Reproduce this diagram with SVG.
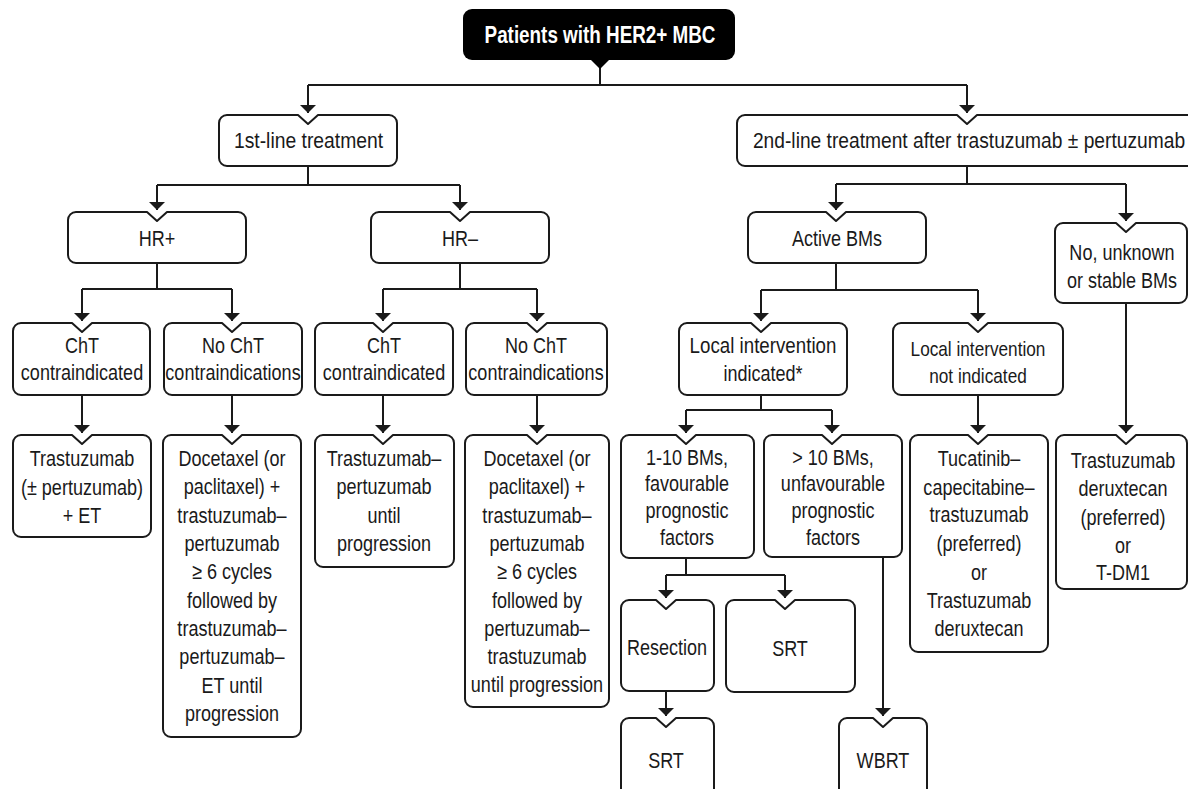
<svg xmlns="http://www.w3.org/2000/svg" width="1188" height="789" viewBox="0 0 1188 789">
<defs>
<marker id="ah" markerUnits="userSpaceOnUse" markerWidth="8" markerHeight="16" viewBox="0 0 8 16" refX="8" refY="8" orient="auto"><path d="M0,0 L8,8 L0,16 Z" fill="#1a1a1a"/></marker>
<style>
.box{fill:#fff;stroke:#1a1a1a;stroke-width:2;stroke-linejoin:round}
.c{fill:none;stroke:#1a1a1a;stroke-width:2}
.a{fill:none;stroke:#1a1a1a;stroke-width:2;marker-end:url(#ah)}
text{font-family:"Liberation Sans",Arial,sans-serif;font-size:22px;fill:#1a1a1a;text-anchor:middle}
.w{fill:#fff;font-weight:bold;font-size:23px}
.s{font-size:21px}
</style>
</defs>
<rect width="1188" height="789" fill="#fff"/>
<g id="connectors">
<path class="c" d="M600,66 V85 M308,85 H967"/>
<path class="a" d="M308,85 V113"/>
<path class="a" d="M967,85 V113"/>
<path class="c" d="M308,166 V185 M157,185 H460"/>
<path class="a" d="M157,185 V210"/>
<path class="a" d="M460,185 V210"/>
<path class="c" d="M967,166 V184 M836,184 H1126"/>
<path class="a" d="M836,184 V210"/>
<path class="a" d="M1126,184 V221"/>
<path class="c" d="M157,263 V289 M82,289 H232"/>
<path class="a" d="M82,289 V321"/>
<path class="a" d="M232,289 V321"/>
<path class="c" d="M460,263 V289 M383,289 H537"/>
<path class="a" d="M383,289 V321"/>
<path class="a" d="M537,289 V321"/>
<path class="c" d="M836,263 V290 M761,290 H978"/>
<path class="a" d="M761,290 V321"/>
<path class="a" d="M978,290 V321"/>
<path class="a" d="M1126,303 V433"/>
<path class="a" d="M82,395 V433"/>
<path class="a" d="M232,395 V433"/>
<path class="a" d="M383,395 V433"/>
<path class="a" d="M537,395 V433"/>
<path class="c" d="M761,395 V410 M686,410 H832"/>
<path class="a" d="M686,410 V433"/>
<path class="a" d="M832,410 V433"/>
<path class="a" d="M978,395 V433"/>
<path class="c" d="M686,558 V575 M666,575 H785"/>
<path class="a" d="M666,575 V598"/>
<path class="a" d="M785,575 V598"/>
<path class="a" d="M666,691 V716"/>
<path class="a" d="M883,557 V716"/>
</g>
<g id="n0">
<rect x="463" y="9" width="272" height="51" rx="9" fill="#000"/>
<path d="M590,59 L610,59 L600,69 Z" fill="#000"/>
<text class="w" transform="translate(600 43) scale(.82 1)">Patients with HER2+ MBC</text>
</g>
<g id="n1"><path class="box" d="M227,115 H298 L308,124 L318,115 H389 A8,8 0 0 1 397,123 V158 A8,8 0 0 1 389,166 H227 A8,8 0 0 1 219,158 V123 A8,8 0 0 1 227,115 Z"/><text transform="translate(308.5 148) scale(.82 1)" textLength="182" lengthAdjust="spacingAndGlyphs">1st-line treatment</text></g>
<g id="n2"><path class="box" d="M745,115 H957 L967,124 L977,115 H1189 A8,8 0 0 1 1197,123 V158 A8,8 0 0 1 1189,166 H745 A8,8 0 0 1 737,158 V123 A8,8 0 0 1 745,115 Z"/><text transform="translate(969 148) scale(.82 1)" textLength="527" lengthAdjust="spacingAndGlyphs">2nd-line treatment after trastuzumab ± pertuzumab</text></g>
<g id="n3"><path class="box" d="M76,212 H147 L157,221 L167,212 H238 A8,8 0 0 1 246,220 V255 A8,8 0 0 1 238,263 H76 A8,8 0 0 1 68,255 V220 A8,8 0 0 1 76,212 Z"/><text transform="translate(157 246) scale(.82 1)">HR+</text></g>
<g id="n4"><path class="box" d="M379,212 H450 L460,221 L470,212 H541 A8,8 0 0 1 549,220 V255 A8,8 0 0 1 541,263 H379 A8,8 0 0 1 371,255 V220 A8,8 0 0 1 379,212 Z"/><text transform="translate(460 246) scale(.82 1)">HR–</text></g>
<g id="n5"><path class="box" d="M756,212 H826 L836,221 L846,212 H918 A8,8 0 0 1 926,220 V255 A8,8 0 0 1 918,263 H756 A8,8 0 0 1 748,255 V220 A8,8 0 0 1 756,212 Z"/><text transform="translate(837 246) scale(.82 1)">Active BMs</text></g>
<g id="n6"><path class="box" d="M1063,223 H1116 L1126,232 L1136,223 H1179 A8,8 0 0 1 1187,231 V295 A8,8 0 0 1 1179,303 H1063 A8,8 0 0 1 1055,295 V231 A8,8 0 0 1 1063,223 Z"/><text transform="translate(1122 260) scale(.82 1)">No, unknown</text><text transform="translate(1122 288) scale(.82 1)">or stable BMs</text></g>
<g id="n7"><path class="box" d="M21,323 H72 L82,332 L92,323 H142 A8,8 0 0 1 150,331 V387 A8,8 0 0 1 142,395 H21 A8,8 0 0 1 13,387 V331 A8,8 0 0 1 21,323 Z"/><text transform="translate(82 353) scale(.82 1)">ChT</text><text transform="translate(82 380) scale(.82 1)">contraindicated</text></g>
<g id="n8"><path class="box" d="M172,323 H222 L232,332 L242,323 H294 A8,8 0 0 1 302,331 V387 A8,8 0 0 1 294,395 H172 A8,8 0 0 1 164,387 V331 A8,8 0 0 1 172,323 Z"/><text transform="translate(233 353) scale(.82 1)">No ChT</text><text transform="translate(233 380) scale(.82 1)">contraindications</text></g>
<g id="n9"><path class="box" d="M323,323 H373 L383,332 L393,323 H445 A8,8 0 0 1 453,331 V387 A8,8 0 0 1 445,395 H323 A8,8 0 0 1 315,387 V331 A8,8 0 0 1 323,323 Z"/><text transform="translate(384 353) scale(.82 1)">ChT</text><text transform="translate(384 380) scale(.82 1)">contraindicated</text></g>
<g id="n10"><path class="box" d="M474,323 H527 L537,332 L547,323 H599 A8,8 0 0 1 607,331 V387 A8,8 0 0 1 599,395 H474 A8,8 0 0 1 466,387 V331 A8,8 0 0 1 474,323 Z"/><text transform="translate(536 353) scale(.82 1)">No ChT</text><text transform="translate(536 380) scale(.82 1)">contraindications</text></g>
<g id="n11"><path class="box" d="M687,323 H751 L761,332 L771,323 H839 A8,8 0 0 1 847,331 V387 A8,8 0 0 1 839,395 H687 A8,8 0 0 1 679,387 V331 A8,8 0 0 1 687,323 Z"/><text transform="translate(763 353) scale(.82 1)" textLength="179" lengthAdjust="spacingAndGlyphs">Local intervention</text><text transform="translate(763 381) scale(.82 1)">indicated*</text></g>
<g id="n12"><path class="box" d="M901,323 H968 L978,332 L988,323 H1055 A8,8 0 0 1 1063,331 V387 A8,8 0 0 1 1055,395 H901 A8,8 0 0 1 893,387 V331 A8,8 0 0 1 901,323 Z"/><text class="s" transform="translate(978 356) scale(.82 1)">Local intervention</text><text class="s" transform="translate(978 383) scale(.82 1)">not indicated</text></g>
<g id="n13"><path class="box" d="M21,435 H72 L82,444 L92,435 H143 A8,8 0 0 1 151,443 V529 A8,8 0 0 1 143,537 H21 A8,8 0 0 1 13,529 V443 A8,8 0 0 1 21,435 Z"/><text transform="translate(82 466) scale(.82 1)">Trastuzumab</text><text transform="translate(82 495) scale(.82 1)">(± pertuzumab)</text><text transform="translate(82 523) scale(.82 1)">+ ET</text></g>
<g id="n14"><path class="box" d="M171,435 H222 L232,444 L242,435 H293 A8,8 0 0 1 301,443 V729 A8,8 0 0 1 293,737 H171 A8,8 0 0 1 163,729 V443 A8,8 0 0 1 171,435 Z"/><text transform="translate(232 466) scale(.82 1)">Docetaxel (or</text><text transform="translate(232 494) scale(.82 1)">paclitaxel) +</text><text transform="translate(232 523) scale(.82 1)">trastuzumab–</text><text transform="translate(232 551) scale(.82 1)">pertuzumab</text><text transform="translate(232 579) scale(.82 1)">≥ 6 cycles</text><text transform="translate(232 608) scale(.82 1)">followed by</text><text transform="translate(232 636) scale(.82 1)">trastuzumab–</text><text transform="translate(232 664) scale(.82 1)">pertuzumab–</text><text transform="translate(232 693) scale(.82 1)">ET until</text><text transform="translate(232 721) scale(.82 1)">progression</text></g>
<g id="n15"><path class="box" d="M323,435 H373 L383,444 L393,435 H446 A8,8 0 0 1 454,443 V559 A8,8 0 0 1 446,567 H323 A8,8 0 0 1 315,559 V443 A8,8 0 0 1 323,435 Z"/><text transform="translate(384 466) scale(.82 1)">Trastuzumab–</text><text transform="translate(384 494) scale(.82 1)">pertuzumab</text><text transform="translate(384 523) scale(.82 1)">until</text><text transform="translate(384 551) scale(.82 1)">progression</text></g>
<g id="n16"><path class="box" d="M473,435 H527 L537,444 L547,435 H601 A8,8 0 0 1 609,443 V699 A8,8 0 0 1 601,707 H473 A8,8 0 0 1 465,699 V443 A8,8 0 0 1 473,435 Z"/><text transform="translate(537 466) scale(.82 1)">Docetaxel (or</text><text transform="translate(537 494) scale(.82 1)">paclitaxel) +</text><text transform="translate(537 523) scale(.82 1)">trastuzumab–</text><text transform="translate(537 551) scale(.82 1)">pertuzumab</text><text transform="translate(537 579) scale(.82 1)">≥ 6 cycles</text><text transform="translate(537 608) scale(.82 1)">followed by</text><text transform="translate(537 636) scale(.82 1)">pertuzumab–</text><text transform="translate(537 664) scale(.82 1)">trastuzumab</text><text transform="translate(537 692) scale(.82 1)">until progression</text></g>
<g id="n17"><path class="box" d="M629,435 H676 L686,444 L696,435 H746 A8,8 0 0 1 754,443 V550 A8,8 0 0 1 746,558 H629 A8,8 0 0 1 621,550 V443 A8,8 0 0 1 629,435 Z"/><text transform="translate(687 465) scale(.82 1)">1-10 BMs,</text><text transform="translate(687 491) scale(.82 1)">favourable</text><text transform="translate(687 518) scale(.82 1)">prognostic</text><text transform="translate(687 545) scale(.82 1)">factors</text></g>
<g id="n18"><path class="box" d="M772,435 H822 L832,444 L842,435 H894 A8,8 0 0 1 902,443 V549 A8,8 0 0 1 894,557 H772 A8,8 0 0 1 764,549 V443 A8,8 0 0 1 772,435 Z"/><text transform="translate(833 465) scale(.82 1)">&gt; 10 BMs,</text><text transform="translate(833 491) scale(.82 1)">unfavourable</text><text transform="translate(833 518) scale(.82 1)">prognostic</text><text transform="translate(833 545) scale(.82 1)">factors</text></g>
<g id="n19"><path class="box" d="M918,435 H968 L978,444 L988,435 H1040 A8,8 0 0 1 1048,443 V644 A8,8 0 0 1 1040,652 H918 A8,8 0 0 1 910,644 V443 A8,8 0 0 1 918,435 Z"/><text transform="translate(979 466) scale(.82 1)">Tucatinib–</text><text transform="translate(979 495) scale(.82 1)">capecitabine–</text><text transform="translate(979 522) scale(.82 1)">trastuzumab</text><text transform="translate(979 551) scale(.82 1)">(preferred)</text><text transform="translate(979 580) scale(.82 1)">or</text><text transform="translate(979 608) scale(.82 1)">Trastuzumab</text><text transform="translate(979 636) scale(.82 1)">deruxtecan</text></g>
<g id="n20"><path class="box" d="M1064,435 H1116 L1126,444 L1136,435 H1179 A8,8 0 0 1 1187,443 V581 A8,8 0 0 1 1179,589 H1064 A8,8 0 0 1 1056,581 V443 A8,8 0 0 1 1064,435 Z"/><text transform="translate(1123 468) scale(.82 1)">Trastuzumab</text><text transform="translate(1123 496) scale(.82 1)">deruxtecan</text><text transform="translate(1123 525) scale(.82 1)">(preferred)</text><text transform="translate(1123 553) scale(.82 1)">or</text><text transform="translate(1123 580) scale(.82 1)">T-DM1</text></g>
<g id="n21"><path class="box" d="M629,600 H656 L666,609 L676,600 H706 A8,8 0 0 1 714,608 V683 A8,8 0 0 1 706,691 H629 A8,8 0 0 1 621,683 V608 A8,8 0 0 1 629,600 Z"/><text transform="translate(667 655) scale(.82 1)">Resection</text></g>
<g id="n22"><path class="box" d="M734,600 H775 L785,609 L795,600 H847 A8,8 0 0 1 855,608 V684 A8,8 0 0 1 847,692 H734 A8,8 0 0 1 726,684 V608 A8,8 0 0 1 734,600 Z"/><text transform="translate(790 656) scale(.82 1)">SRT</text></g>
<g id="n23"><path class="box" d="M629,718 H656 L666,727 L676,718 H706 A8,8 0 0 1 714,726 V790 A8,8 0 0 1 706,798 H629 A8,8 0 0 1 621,790 V726 A8,8 0 0 1 629,718 Z"/><text transform="translate(666 768) scale(.82 1)">SRT</text></g>
<g id="n24"><path class="box" d="M847,718 H873 L883,727 L893,718 H919 A8,8 0 0 1 927,726 V790 A8,8 0 0 1 919,798 H847 A8,8 0 0 1 839,790 V726 A8,8 0 0 1 847,718 Z"/><text transform="translate(883 768) scale(.82 1)">WBRT</text></g>
</svg>
